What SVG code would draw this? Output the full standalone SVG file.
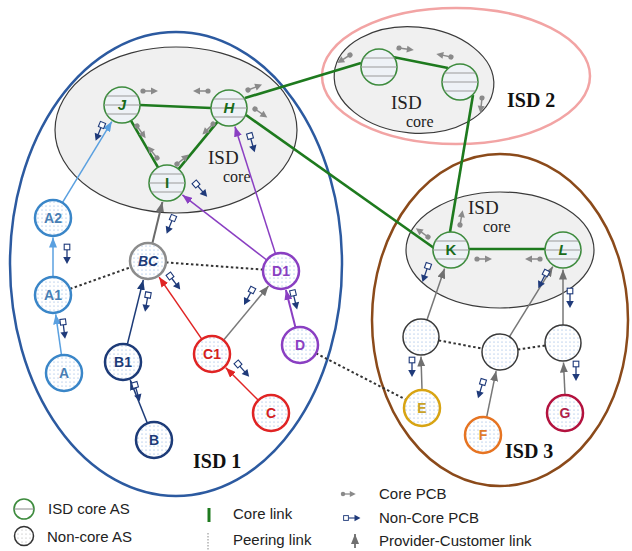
<svg xmlns="http://www.w3.org/2000/svg" xmlns:xlink="http://www.w3.org/1999/xlink" width="632" height="551" viewBox="0 0 632 551">
<defs>
<style>
.isd{fill:none;stroke-width:2.5}
.corezone{fill:#f0f0f0;stroke:#3a3a3a;stroke-width:1.2}
.nc{fill:url(#dots);stroke-width:2.5}
.ncg{fill:url(#dots);stroke:#3a3a3a;stroke-width:1.5}
.lbl{font-family:"Liberation Sans",Arial,sans-serif;font-weight:bold;font-size:14px;text-anchor:middle}
.clbl{font-family:"Liberation Sans",Arial,sans-serif;font-weight:bold;font-style:italic;font-size:15px;text-anchor:middle;fill:#1a6b1a}
.up{font-style:normal}
.isdt{font-family:"Liberation Serif","Times New Roman",serif;fill:#222}
.isdb{font-family:"Liberation Serif","Times New Roman",serif;font-weight:bold;font-size:20px;fill:#111}
.leg{font-family:"Liberation Sans",Arial,sans-serif;font-size:15px;fill:#222}
.corelink{stroke:#1e7a1e;stroke-width:2.6;fill:none}
.peer{stroke:#333;stroke-width:2;stroke-dasharray:2.5,2.5;fill:none}
.pc{fill:none;stroke-width:1.5}
</style>
<pattern id="dots" width="4" height="4" patternUnits="userSpaceOnUse"><rect width="4" height="4" fill="#fff"/><circle cx="2" cy="2" r="0.55" fill="#7aa3dc"/></pattern>
<pattern id="dotsg" width="4" height="4" patternUnits="userSpaceOnUse"><rect width="4" height="4" fill="#fff"/><circle cx="2" cy="2" r="0.5" fill="#999"/></pattern>
<g id="coreAS"><circle r="18" fill="#eef2f6" stroke="#3d8b3d" stroke-width="1.6"/><path d="M-15.6,-9H15.6M-18,0H18M-15.6,9H15.6" stroke="#9a9a9a" stroke-width="1"/></g>
<g id="cpcb"><line x1="0" y1="0" x2="9" y2="0" stroke="#8a8a8a" stroke-width="1.5"/><circle r="2.6" fill="#8a8a8a"/><path d="M8,-3.5L15,0L8,3.5z" fill="#8a8a8a"/></g>
<g id="npcb"><line x1="2.8" y1="0" x2="12" y2="0" stroke="#1f3a7a" stroke-width="1.3"/><rect x="-2.8" y="-2.8" width="5.6" height="5.6" fill="#fff" stroke="#1f3a7a" stroke-width="1.1"/><path d="M10,-3.8L17,0L10,3.8z" fill="#1f3a7a"/></g>
<marker id="mA" viewBox="0 0 10 8" refX="10" refY="4" markerWidth="10" markerHeight="8" markerUnits="userSpaceOnUse" orient="auto"><path d="M0,0L10,4L0,8z" fill="#5aa0e0"/></marker>
<marker id="mB" viewBox="0 0 10 8" refX="10" refY="4" markerWidth="10" markerHeight="8" markerUnits="userSpaceOnUse" orient="auto"><path d="M0,0L10,4L0,8z" fill="#1d3b78"/></marker>
<marker id="mC" viewBox="0 0 10 8" refX="10" refY="4" markerWidth="10" markerHeight="8" markerUnits="userSpaceOnUse" orient="auto"><path d="M0,0L10,4L0,8z" fill="#e02424"/></marker>
<marker id="mD" viewBox="0 0 10 8" refX="10" refY="4" markerWidth="10" markerHeight="8" markerUnits="userSpaceOnUse" orient="auto"><path d="M0,0L10,4L0,8z" fill="#8a3fc2"/></marker>
<marker id="mG" viewBox="0 0 10 8" refX="10" refY="4" markerWidth="10" markerHeight="8" markerUnits="userSpaceOnUse" orient="auto"><path d="M0,0L10,4L0,8z" fill="#707070"/></marker>
</defs>
<rect width="632" height="551" fill="#fff"/>

<!-- ISD regions -->
<g id="isd1">
<ellipse cx="176" cy="264" rx="166" ry="232" class="isd" stroke="#2c5aa0"/>
<ellipse cx="176" cy="130" rx="121" ry="83" class="corezone"/>
<text x="208" y="164" class="isdt" font-size="19">ISD</text>
<text x="223" y="182" class="isdt" font-size="16">core</text>
<text x="193" y="468" class="isdb">ISD 1</text>
</g>
<g id="isd2">
<ellipse cx="456" cy="76" rx="134" ry="68" class="isd" stroke="#f2a4a4"/>
<ellipse cx="414" cy="80" rx="80" ry="53" transform="rotate(5 414 80)" class="corezone"/>
<text x="391" y="109" class="isdt" font-size="19">ISD</text>
<text x="406" y="127" class="isdt" font-size="16">core</text>
<text x="507" y="107" class="isdb">ISD 2</text>
</g>
<g id="isd3">
<ellipse cx="500" cy="320" rx="128" ry="166" class="isd" stroke="#8b4a1a"/>
<ellipse cx="500" cy="250" rx="94" ry="58" class="corezone"/>
<text x="468" y="214" class="isdt" font-size="19">ISD</text>
<text x="483" y="232" class="isdt" font-size="16">core</text>
<text x="505" y="458" class="isdb">ISD 3</text>
</g>

<!-- connectors -->
<g id="connectors">
<line x1="140" y1="105" x2="211" y2="108" class="corelink"/>
<line x1="131" y1="120.6" x2="158" y2="167.4" class="corelink"/>
<line x1="217.5" y1="121.9" x2="178.5" y2="169.1" class="corelink"/>
<line x1="245" y1="98" x2="361" y2="63" class="corelink"/>
<line x1="393" y1="57" x2="448" y2="68" class="corelink"/>
<line x1="473" y1="95" x2="450" y2="232" class="corelink"/>
<line x1="246" y1="115" x2="434" y2="248" class="corelink"/>
<line x1="469" y1="249" x2="545" y2="249" class="corelink"/>
<line x1="70" y1="288.9" x2="131" y2="267.1" class="peer"/>
<line x1="166" y1="262.4" x2="263" y2="269.6" class="peer"/>
<line x1="316" y1="353.3" x2="406" y2="399.7" class="peer"/>
<line x1="438.7" y1="340.4" x2="482.3" y2="348.6" class="peer"/>
<line x1="517.8" y1="349.5" x2="545.2" y2="345.5" class="peer"/>
<line x1="61.5" y1="355.2" x2="55.7" y2="314.3" class="pc" stroke="#5aa0e0" marker-end="url(#mA)"/>
<line x1="53" y1="313" x2="53" y2="237.5" class="pc" stroke="#5aa0e0" marker-end="url(#mA)"/>
<line x1="62.4" y1="202.6" x2="111.8" y2="121.6" class="pc" stroke="#5aa0e0" marker-end="url(#mA)"/>
<line x1="152.3" y1="243.5" x2="162.4" y2="201.9" class="pc" stroke="#6a6a6a" style="stroke-width:2" marker-end="url(#mG)"/>
<line x1="147.4" y1="423.3" x2="130.2" y2="380.1" class="pc" stroke="#1d3b78" marker-end="url(#mB)"/>
<line x1="127.3" y1="344.5" x2="143.3" y2="279.9" class="pc" stroke="#1d3b78" marker-end="url(#mB)"/>
<line x1="258.3" y1="400.3" x2="225.8" y2="367.8" class="pc" stroke="#e02424" marker-end="url(#mC)"/>
<line x1="201.8" y1="339.2" x2="159.1" y2="277.1" class="pc" stroke="#e02424" marker-end="url(#mC)"/>
<line x1="223.5" y1="340.2" x2="268.5" y2="286" class="pc" stroke="#7a7a7a" marker-end="url(#mG)"/>
<line x1="295.5" y1="327.6" x2="285.9" y2="289.9" class="pc" stroke="#8a3fc2" style="stroke-width:2" marker-end="url(#mD)"/>
<line x1="266.7" y1="260" x2="182.4" y2="194.9" class="pc" stroke="#8a3fc2" marker-end="url(#mD)"/>
<line x1="275.5" y1="253.8" x2="234.9" y2="126.6" class="pc" stroke="#8a3fc2" marker-end="url(#mD)"/>
<line x1="426.9" y1="320" x2="444.6" y2="268.4" class="pc" stroke="#777" marker-end="url(#mG)"/>
<line x1="509.5" y1="336.7" x2="552.8" y2="266.6" class="pc" stroke="#777" marker-end="url(#mG)"/>
<line x1="563" y1="325" x2="563" y2="269.5" class="pc" stroke="#777" marker-end="url(#mG)"/>
<line x1="422" y1="390" x2="421" y2="356.5" class="pc" stroke="#777" marker-end="url(#mG)"/>
<line x1="486.6" y1="417.4" x2="496.1" y2="371.1" class="pc" stroke="#777" marker-end="url(#mG)"/>
<line x1="565" y1="395" x2="563.5" y2="362.5" class="pc" stroke="#777" marker-end="url(#mG)"/>
</g>

<!-- PCB beacons -->
<g id="pcbs">
<use xlink:href="#cpcb" transform="translate(143,91)"/>
<use xlink:href="#cpcb" transform="translate(208,91) rotate(180)"/>
<use xlink:href="#cpcb" transform="translate(248,90) rotate(-21)"/>
<use xlink:href="#cpcb" transform="translate(255,109) rotate(35)"/>
<use xlink:href="#cpcb" transform="translate(137,126) rotate(55)"/>
<use xlink:href="#cpcb" transform="translate(157,158) rotate(232)"/>
<use xlink:href="#cpcb" transform="translate(177,164) rotate(-39)"/>
<use xlink:href="#cpcb" transform="translate(213,124) rotate(135)"/>
<use xlink:href="#cpcb" transform="translate(399,48) rotate(8)"/>
<use xlink:href="#cpcb" transform="translate(451,57) rotate(192)"/>
<use xlink:href="#cpcb" transform="translate(350,55) rotate(148)"/>
<use xlink:href="#cpcb" transform="translate(482,98) rotate(96)"/>
<use xlink:href="#cpcb" transform="translate(460,225) rotate(-80)"/>
<use xlink:href="#cpcb" transform="translate(428,237) rotate(216)"/>
<use xlink:href="#cpcb" transform="translate(477,259)"/>
<use xlink:href="#cpcb" transform="translate(540,259) rotate(180)"/>
<use xlink:href="#npcb" transform="translate(102,125) rotate(112)"/>
<use xlink:href="#npcb" transform="translate(250,136) rotate(74)"/>
<use xlink:href="#npcb" transform="translate(196,184) rotate(49)"/>
<use xlink:href="#npcb" transform="translate(173,218) rotate(112)"/>
<use xlink:href="#npcb" transform="translate(67,247) rotate(90)"/>
<use xlink:href="#npcb" transform="translate(63,322) rotate(83)"/>
<use xlink:href="#npcb" transform="translate(170,276) rotate(53)"/>
<use xlink:href="#npcb" transform="translate(148,295) rotate(100)"/>
<use xlink:href="#npcb" transform="translate(135,385) rotate(74)"/>
<use xlink:href="#npcb" transform="translate(238,364) rotate(49)"/>
<use xlink:href="#npcb" transform="translate(252,290) rotate(118)"/>
<use xlink:href="#npcb" transform="translate(293,293) rotate(76)"/>
<use xlink:href="#npcb" transform="translate(428,266) rotate(109)"/>
<use xlink:href="#npcb" transform="translate(546,273) rotate(117)"/>
<use xlink:href="#npcb" transform="translate(570,291) rotate(90)"/>
<use xlink:href="#npcb" transform="translate(412,360) rotate(90)"/>
<use xlink:href="#npcb" transform="translate(483,382) rotate(107)"/>
<use xlink:href="#npcb" transform="translate(576,364) rotate(90)"/>
</g>

<!-- core nodes -->
<g id="node-J"><use xlink:href="#coreAS" transform="translate(122,105)"/><text x="122" y="110" class="clbl">J</text></g>
<g id="node-H"><use xlink:href="#coreAS" transform="translate(229,108)"/><text x="229" y="113" class="clbl">H</text></g>
<g id="node-I"><use xlink:href="#coreAS" transform="translate(167,183)"/><text x="167" y="188" class="clbl up">I</text></g>
<g id="node-ISD2a"><use xlink:href="#coreAS" transform="translate(379,67)"/></g>
<g id="node-ISD2b"><use xlink:href="#coreAS" transform="translate(460,82)"/></g>
<g id="node-K"><use xlink:href="#coreAS" transform="translate(451,250)"/><text x="451" y="255" class="clbl up">K</text></g>
<g id="node-L"><use xlink:href="#coreAS" transform="translate(563,250)"/><text x="563" y="255" class="clbl">L</text></g>

<!-- non-core nodes -->
<g id="node-A2"><circle cx="53" cy="218" r="18" class="nc" stroke="#3a86c8"/><text x="53" y="223" class="lbl" fill="#4a7fb5">A2</text></g>
<g id="node-A1"><circle cx="53" cy="295" r="18" class="nc" stroke="#3a86c8"/><text x="53" y="300" class="lbl" fill="#4a7fb5">A1</text></g>
<g id="node-A"><circle cx="64" cy="373" r="18" class="nc" stroke="#3a86c8"/><text x="64" y="378" class="lbl" fill="#4a7fb5">A</text></g>
<g id="node-BC"><circle cx="148" cy="261" r="18" class="nc" stroke="#8c8c8c"/><text x="148" y="266" class="lbl" font-style="italic" fill="#1d3b78">BC</text></g>
<g id="node-B1"><circle cx="123" cy="362" r="18" class="nc" stroke="#1d3b78"/><text x="123" y="367" class="lbl" fill="#1d3b78">B1</text></g>
<g id="node-B"><circle cx="154" cy="440" r="18" class="nc" stroke="#1d3b78"/><text x="154" y="445" class="lbl" fill="#1d3b78">B</text></g>
<g id="node-C1"><circle cx="212" cy="354" r="18" class="nc" stroke="#e02424"/><text x="212" y="359" class="lbl" fill="#d42020">C1</text></g>
<g id="node-C"><circle cx="271" cy="413" r="18" class="nc" stroke="#e02424"/><text x="271" y="418" class="lbl" fill="#d42020">C</text></g>
<g id="node-D1"><circle cx="281" cy="271" r="18" class="nc" stroke="#8a3fc2"/><text x="281" y="276" class="lbl" fill="#8a3fc2">D1</text></g>
<g id="node-D"><circle cx="300" cy="345" r="18" class="nc" stroke="#8a3fc2"/><text x="300" y="350" class="lbl" fill="#8a3fc2">D</text></g>
<g id="node-N1"><circle cx="421" cy="337" r="18" class="ncg"/></g>
<g id="node-N2"><circle cx="500" cy="352" r="18" class="ncg"/></g>
<g id="node-N3"><circle cx="563" cy="343" r="18" class="ncg"/></g>
<g id="node-E"><circle cx="422" cy="408" r="18" class="nc" stroke="#d8a413"/><text x="422" y="413" class="lbl" fill="#c9a227">E</text></g>
<g id="node-F"><circle cx="483" cy="435" r="18" class="nc" stroke="#e67422"/><text x="483" y="440" class="lbl" fill="#e07b2a">F</text></g>
<g id="node-G"><circle cx="565" cy="413" r="18" class="nc" stroke="#b3123e"/><text x="565" y="418" class="lbl" fill="#b01f4a">G</text></g>

<!-- legend -->
<g id="legend">
<circle cx="24" cy="509" r="10" fill="#fff" stroke="#3d8b3d" stroke-width="1.6"/>
<line x1="14" y1="509" x2="34" y2="509" stroke="#888" stroke-width="1"/>
<text x="48" y="514" class="leg">ISD core AS</text>
<circle cx="24" cy="536" r="9.5" fill="url(#dotsg)" stroke="#333" stroke-width="1.5"/>
<text x="47" y="542" class="leg">Non-core AS</text>
<line x1="209" y1="508" x2="209" y2="522" stroke="#1e7a1e" stroke-width="3"/>
<text x="233" y="519" class="leg">Core link</text>
<line x1="208" y1="533" x2="208" y2="550" stroke="#888" stroke-width="1" stroke-dasharray="1.5,1.5"/>
<text x="233" y="545" class="leg">Peering link</text>
<use xlink:href="#cpcb" transform="translate(343,494) scale(0.85)"/>
<text x="379" y="499" class="leg">Core PCB</text>
<use xlink:href="#npcb" transform="translate(346,518) scale(0.85)"/>
<text x="379" y="523" class="leg">Non-Core PCB</text>
<line x1="355" y1="548" x2="355" y2="534" stroke="#555" stroke-width="1.5" marker-end="url(#mG)"/>
<text x="379" y="546" class="leg">Provider-Customer link</text>
</g>
</svg>
